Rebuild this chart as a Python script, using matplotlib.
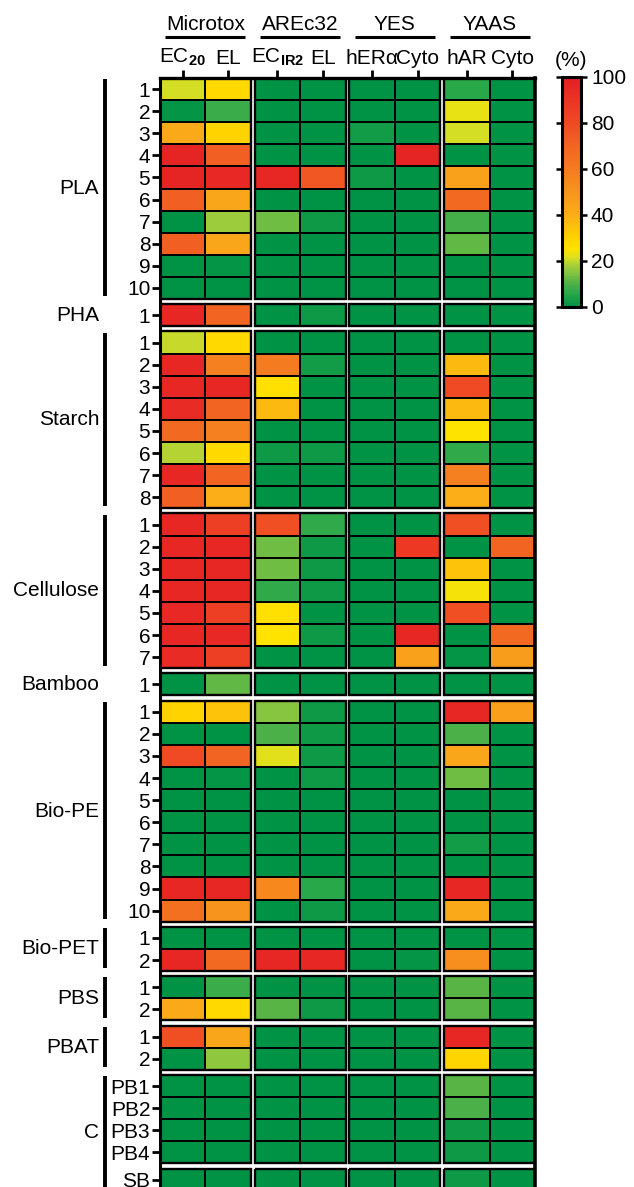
import numpy as np
import matplotlib.pyplot as plt
from matplotlib.colors import LinearSegmentedColormap
from matplotlib.patches import Rectangle

plt.rcParams['font.family'] = ['Liberation Sans', 'DejaVu Sans']
plt.rcParams['mathtext.fontset'] = 'custom'
plt.rcParams['mathtext.rm'] = 'Liberation Sans'
plt.rcParams['mathtext.bf'] = 'Liberation Sans:bold'
plt.rcParams['mathtext.it'] = 'Liberation Sans:italic'

FS = 15

# assays and their endpoints (two per assay)
assays = ['Microtox', 'AREc32', 'YES', 'YAAS']
endpoints = [r'EC$_{\mathbf{20}}$', 'EL', r'EC$_{\mathbf{IR2}}$', 'EL',
             'hERα', 'Cyto', 'hAR', 'Cyto']

# effect (%) per sample, columns ordered as endpoints
pla = [
    [21, 28, 0, 0, 0, 0, 6, 0],
    [1, 8, 0, 0, 0, 0, 23, 0],
    [42, 30, 0, 0, 3, 0, 21, 0],
    [97, 72, 0, 0, 0, 97, 0, 0],
    [97, 95, 96, 75, 2, 0, 45, 0],
    [72, 43, 0, 0, 0, 0, 68, 0],
    [0, 17, 13, 2, 0, 0, 9, 0],
    [72, 43, 0, 0, 0, 0, 12, 0],
    [0, 1, 0, 0, 0, 0, 0, 0],
    [0, 0, 0, 0, 0, 0, 0, 0],
]
pha = [[96, 70, 0, 2, 0, 0, 0, 0]]
starch = [
    [20, 28, 0, 0, 0, 0, 0, 0],
    [96, 58, 60, 3, 0, 0, 37, 0],
    [96, 96, 26, 0, 0, 0, 80, 0],
    [94, 70, 37, 0, 0, 0, 37, 0],
    [68, 58, 0, 0, 0, 0, 25, 0],
    [19, 28, 2, 2, 0, 0, 7, 0],
    [96, 70, 0, 0, 0, 0, 58, 0],
    [72, 40, 0, 0, 0, 0, 40, 0],
]
cellulose = [
    [96, 85, 78, 7, 0, 0, 78, 0],
    [96, 96, 13, 2, 0, 88, 0, 70],
    [96, 96, 13, 2, 0, 0, 34, 0],
    [96, 96, 7, 2, 0, 0, 24, 0],
    [95, 85, 26, 0, 0, 0, 78, 0],
    [96, 95, 25, 2, 0, 96, 0, 68],
    [94, 85, 0, 0, 0, 45, 1, 47],
]
bamboo = [[0, 12, 0, 0, 0, 0, 0, 0]]
bio_pe = [
    [30, 34, 15, 2, 0, 0, 96, 46],
    [0, 0, 10, 2, 0, 0, 10, 0],
    [80, 70, 22, 2, 0, 0, 43, 0],
    [0, 1, 0, 2, 0, 0, 13, 0],
    [0, 0, 0, 0, 0, 0, 0, 0],
    [0, 0, 0, 0, 0, 0, 0, 0],
    [0, 0, 0, 0, 0, 0, 3, 0],
    [0, 0, 0, 0, 0, 0, 0, 0],
    [96, 96, 55, 6, 0, 0, 96, 0],
    [65, 50, 0, 2, 0, 0, 42, 0],
]
bio_pet = [
    [0, 0, 0, 0, 0, 0, 0, 0],
    [96, 68, 96, 96, 0, 1, 52, 0],
]
pbs = [
    [0, 8, 0, 0, 0, 0, 11, 0],
    [42, 28, 11, 2, 0, 0, 11, 0],
]
pbat = [
    [78, 43, 0, 0, 0, 0, 96, 0],
    [0, 16, 0, 0, 0, 0, 29, 0],
]
controls = [
    [0, 0, 0, 0, 0, 0, 11, 0],
    [0, 0, 0, 0, 0, 0, 10, 0],
    [0, 0, 0, 0, 0, 0, 2, 0],
    [0, 0, 0, 0, 0, 0, 2, 0],
]
sb = [[0, 0, 0, 0, 0, 0, 2, 0]]

# sample blocks: (values, row labels)
blocks = [
    (pla, [str(i) for i in range(1, 11)]),
    (pha, ['1']),
    (starch, [str(i) for i in range(1, 9)]),
    (cellulose, [str(i) for i in range(1, 8)]),
    (bamboo, ['1']),
    (bio_pe, [str(i) for i in range(1, 11)]),
    (bio_pet, ['1', '2']),
    (pbs, ['1', '2']),
    (pbat, ['1', '2']),
    (controls, ['PB1', 'PB2', 'PB3', 'PB4']),
    (sb, ['SB']),
]
# material groups: (name, first block, last block)
groups = [('PLA', 0, 0), ('PHA', 1, 1), ('Starch', 2, 2), ('Cellulose', 3, 3),
          ('Bamboo', 4, 4), ('Bio-PE', 5, 5), ('Bio-PET', 6, 6), ('PBS', 7, 7),
          ('PBAT', 8, 8), ('C', 9, 10)]

cmap = LinearSegmentedColormap.from_list('tox', [
    (0.0, '#009245'), (0.06, '#2AA84A'), (0.10, '#4DB047'), (0.14, '#7DC243'),
    (0.18, '#A8CE38'), (0.21, '#D7DF23'), (0.25, '#FFE300'), (0.30, '#FFD200'),
    (0.40, '#FBAE18'), (0.50, '#F7941D'), (0.60, '#F47B20'), (0.70, '#F26522'),
    (0.80, '#EF4A24'), (0.90, '#EC3424'), (1.0, '#E31E24')])

GX = 0.087   # white gap between assays (column units)
GY = 0.235   # white gap between sample blocks (row units)
col_left = [j + (j // 2) * GX for j in range(8)]
col_mid = [c + 0.5 for c in col_left]

fig = plt.figure(figsize=(6.34, 11.87), dpi=100)
ax = fig.add_axes([160 / 634, 0, 375 / 634, 1 - 78 / 1187])
ax.set_xlim(0, 8 + 3 * GX)
ax.set_ylim((1187 - 78) / 22.1, 0)

tops = []
y = 0
yticks, ylabels = [], []
for vals, labels in blocks:
    v = np.array(vals, dtype=float)
    n = len(v)
    tops.append(y)
    ys = y + np.arange(n + 1)
    for g in range(4):
        xs = col_left[2 * g] + np.arange(3)
        mesh = ax.pcolormesh(xs, ys, v[:, 2 * g:2 * g + 2], cmap=cmap, vmin=0, vmax=100,
                             edgecolors='k', linewidth=1.1)
        ax.add_patch(Rectangle((xs[0], ys[0]), 2, n, fill=False, ec='k', lw=1.7))
    yticks += list(y + np.arange(n) + 0.5)
    ylabels += labels
    y += n + GY

ax.set_yticks(yticks)
ax.set_yticklabels(ylabels, fontsize=FS)
ax.xaxis.tick_top()
ax.set_xticks(col_mid)
ax.set_xticklabels(endpoints, fontsize=FS)
ax.tick_params(axis='y', direction='out', length=5.5, width=2, pad=1.5)
ax.tick_params(axis='x', direction='out', length=5.5, width=2, pad=2)
ax.spines['bottom'].set_visible(False)
ax.spines['left'].set_linewidth(2.2)
ax.spines['top'].set_linewidth(2.4)
ax.spines['right'].set_linewidth(2.6)

# assay headers with underline
xt = ax.get_xaxis_transform()
for g, name in enumerate(assays):
    cx = col_left[2 * g] + 1
    ax.text(cx, 1.0433, name, transform=xt, ha='center', va='baseline', fontsize=FS)
    ax.plot([cx - 0.88, cx + 0.88], [1.0374, 1.0374], transform=xt, color='k',
            lw=2.2, clip_on=False, solid_capstyle='butt')

# material group labels and brackets
for name, b0, b1 in groups:
    y0 = tops[b0]
    y1 = tops[b1] + len(blocks[b1][0])
    ax.text(-1.34, (y0 + y1) / 2, name, ha='right', va='center', fontsize=FS,
            clip_on=False)
    if y1 - y0 > 1:
        ax.plot([-1.22, -1.22], [y0 + 0.05, y1 - 0.12], color='k', lw=2.8,
                clip_on=False, solid_capstyle='butt')

# colour bar
cax = fig.add_axes([561.5 / 634, 1 - 307 / 1187, 19 / 634, 230 / 1187])
cb = fig.colorbar(mesh, cax=cax, ticks=[0, 20, 40, 60, 80, 100])
cb.outline.set_linewidth(2.2)
cax.tick_params(left=True, right=True, direction='out', length=4.5, width=1.8,
                labelsize=FS, pad=3)
cax.text(0.5, 1.071, '(%)', transform=cax.transAxes, ha='center', va='center',
         fontsize=FS)

fig.savefig('out.png', dpi=100)
